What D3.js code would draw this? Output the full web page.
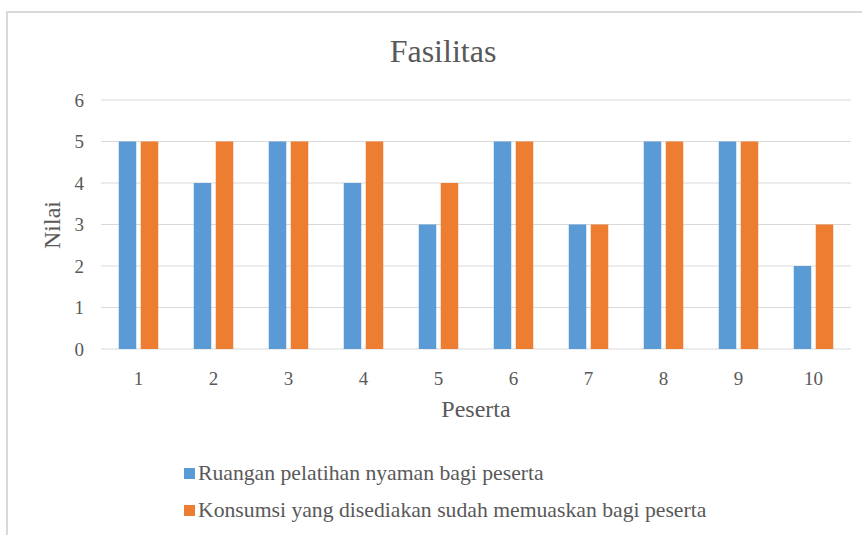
<!DOCTYPE html>
<html>
<head>
<meta charset="utf-8">
<script src="https://cdn.jsdelivr.net/npm/d3@7"></script>
<style>
  html, body { margin: 0; padding: 0; background: #fff; }
  svg { display: block; }
  text { font-family: "Liberation Serif", "Times New Roman", serif; fill: #595959; }
</style>
</head>
<body>
<svg id="chart" width="862" height="535"></svg>
<script>
const categories = ["1","2","3","4","5","6","7","8","9","10"];
const seriesNames = ["Ruangan pelatihan nyaman bagi peserta", "Konsumsi yang disediakan sudah memuaskan bagi peserta"];
const ruangan = [5,4,5,4,3,5,3,5,5,2];
const konsumsi = [5,5,5,5,4,5,3,5,5,3];
const yTicks = [0,1,2,3,4,5,6];
const colors = ["#5B9BD5", "#ED7D31"];

const svg = d3.select("#chart");
const W = 862, H = 535;

// chart frame (cut at right/bottom like reference)
svg.append("path")
  .attr("d", `M7,${H} L7,12 L${W},12`)
  .attr("fill", "none").attr("stroke", "#d9d9d9").attr("stroke-width", 2);

const pLeft = 101, pRight = 851, pTop = 100, pBottom = 349;
const x = d3.scaleBand().domain(categories).range([pLeft, pRight]);
const y = d3.scaleLinear().domain([0, 6]).range([pBottom, pTop]);

// gridlines
svg.append("g").selectAll("line").data(yTicks).join("line")
  .attr("x1", pLeft).attr("x2", pRight)
  .attr("y1", d => y(d)).attr("y2", d => y(d))
  .attr("stroke", "#d9d9d9").attr("stroke-width", 1.2);

// y tick labels
svg.append("g").selectAll("text").data(yTicks).join("text")
  .attr("x", 84).attr("y", d => y(d)).attr("dy", "0.35em")
  .attr("text-anchor", "end").attr("font-size", 19).text(d => d);

// bars
const barW = 17.5, gap = 4.5;
const inner = d3.scaleBand().domain([0,1]).range([0, barW*2 + gap]).paddingInner(gap/(barW+gap)).paddingOuter(0);
const groupOffset = (x.bandwidth() - (barW*2 + gap)) / 2;
[ruangan, konsumsi].forEach((vals, si) => {
  svg.append("g").selectAll("rect").data(vals).join("rect")
    .attr("x", (d, i) => x(categories[i]) + groupOffset + inner(si))
    .attr("width", inner.bandwidth())
    .attr("y", d => y(d))
    .attr("height", d => y(0) - y(d))
    .attr("fill", colors[si]);
});

// x tick labels
svg.append("g").selectAll("text").data(categories).join("text")
  .attr("x", d => x(d) + x.bandwidth()/2).attr("y", 385)
  .attr("text-anchor", "middle").attr("font-size", 19).text(d => d);

// title
svg.append("text").attr("x", 443).attr("y", 62).attr("text-anchor", "middle")
  .attr("font-size", 32).text("Fasilitas");

// axis titles
svg.append("text").attr("x", 476).attr("y", 417).attr("text-anchor", "middle")
  .attr("font-size", 24).text("Peserta");
svg.append("text").attr("transform", "translate(60,225) rotate(-90)")
  .attr("text-anchor", "middle").attr("font-size", 24).text("Nilai");

// legend
const legY = [480, 517];
seriesNames.forEach((name, i) => {
  svg.append("rect").attr("x", 184).attr("y", legY[i] - 12).attr("width", 11).attr("height", 11).attr("fill", colors[i]);
  svg.append("text").attr("x", 198).attr("y", legY[i]).attr("font-size", 21.7).text(name);
});
</script>
</body>
</html>
